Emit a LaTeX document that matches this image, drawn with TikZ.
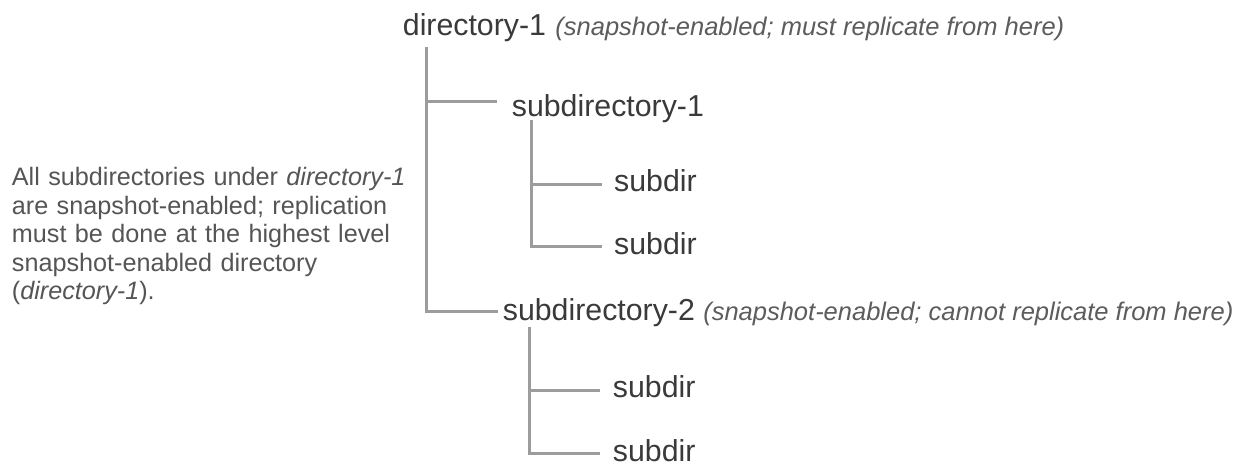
\documentclass[tikz,border=0pt]{standalone}
\usepackage{fontspec}
\setmainfont{Liberation Sans}
\newcommand\treefont{\fontsize{30.3}{36}\selectfont}
\newcommand\remarkfont{\fontsize{25.5}{30}\selectfont\itshape}
\newcommand\parafont{\fontsize{25.2}{28.4}\selectfont}
\definecolor{maintext}{HTML}{3A3A3A}
\definecolor{remarktext}{HTML}{5C5C5C}
\definecolor{paratext}{HTML}{555555}
\definecolor{linegray}{HTML}{9C9C9C}
\begin{document}
\begin{tikzpicture}[x=1pt,y=-1pt,
  dirnode/.style={font=\treefont, text=maintext, inner sep=0pt, anchor=base west},
  remark/.style={font=\remarkfont, text=remarktext, inner sep=0pt, anchor=base west},
  branch/.style={draw=linegray, line width=3pt}]
\fill[white] (0,0) rectangle (1237,465);
\useasboundingbox (0,0) rectangle (1237,465);

% nodes
\node[dirnode] (d1) at (402.7,35.5) {directory-1};
\node[remark] (r1) at ([xshift=9pt]d1.base east) {(snapshot-enabled; must replicate from here)};
\node[dirnode] (s1) at (511.7,117) {subdirectory-1};
\node[dirnode] (s1a) at (614,192) {subdir};
\node[dirnode] (s1b) at (614,254.5) {subdir};
\node[dirnode] (s2) at (502.7,320.7) {subdirectory-2};
\node[remark] (r2) at ([xshift=8pt]s2.base east) {(snapshot-enabled; cannot replicate from here)};
\node[dirnode] (s2a) at (612.7,397.8) {subdir};
\node[dirnode] (s2b) at (612.7,461) {subdir};

\node[font=\parafont, text=paratext, inner sep=0pt, anchor=base west,
      text width=400pt, align=left] (para) at (11.7,186)
  {All subdirectories under \textit{directory-1}\\
   are snapshot-enabled; replication\\
   must be done at the highest level\\
   snapshot-enabled directory\\
   (\textit{directory-1}).};

% stems
\coordinate (d1top) at (426.7,46.7);
\coordinate (s1top) at (531.7,120);
\coordinate (s2top) at (529.3,327.3);

% connectors
\draw[branch] (d1top) |- ([shift={(-4.7pt,9pt)}]s2.base west);
\draw[branch] (d1top |- s1.base west) ++(0,-15.3) -- ([shift={(-14.7pt,15.3pt)}]s1.base west);
\draw[branch] (s1top) |- ([shift={(-12.3pt,7.8pt)}]s1b.base west);
\draw[branch] (s1top |- s1a.base west) ++(0,-7) -- ([shift={(-12.3pt,7pt)}]s1a.base west);
\draw[branch] (s2top) |- ([shift={(-12.7pt,7.7pt)}]s2b.base west);
\draw[branch] (s2top |- s2a.base west) ++(0,-7.8) -- ([shift={(-12.7pt,7.8pt)}]s2a.base west);
\end{tikzpicture}
\end{document}
